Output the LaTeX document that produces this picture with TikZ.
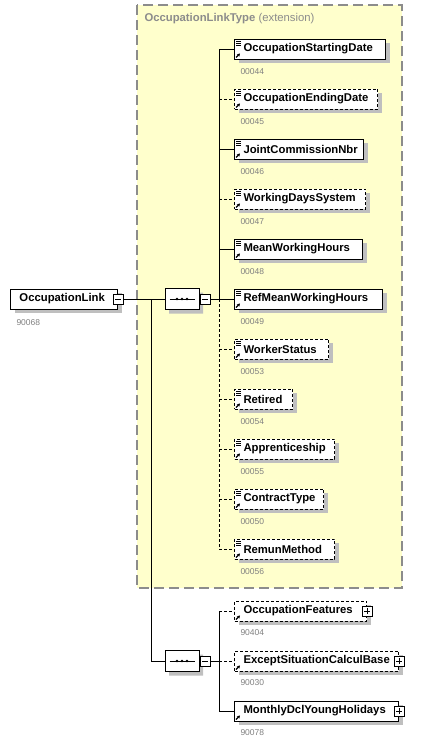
\documentclass[tikz,border=0pt]{standalone}
\usepackage{fontspec}
\setmainfont{Liberation Sans}
\usetikzlibrary{shadows,shapes.misc,arrows.meta}

\definecolor{typefill}{RGB}{255,255,204}
\definecolor{typeline}{RGB}{140,140,140}
\definecolor{idgray}{RGB}{128,128,128}

\newcommand{\elemfont}{\fontsize{11.3}{13}\selectfont\bfseries}
\newcommand{\idfont}{\fontsize{8.5}{10}\selectfont}
\newcommand{\elembox}[2]{\makebox[#1pt][l]{\hspace{9pt}#2}}
\newcommand{\refarrow}[1]{\draw[-{Stealth[length=3pt,width=3.5pt]}, line width=1.1pt] ([xshift=2pt,yshift=2pt]#1.south west) -- ++(4pt,4pt);}
\newcommand{\texticon}[1]{\foreach \k in {2.5,4.5,6.5} \draw[line width=0.8pt] ([xshift=2pt,yshift=-\k pt]#1.north west) -- ++(5pt,0pt);}

\tikzset{
  shadowed/.style={drop shadow={shadow xshift=4pt, shadow yshift=-4pt, fill=black!25, opacity=1}},
  elem/.style={draw, fill=white, shadowed, anchor=west, minimum height=20pt, inner sep=0pt, font=\elemfont},
  optional/.style={dash pattern=on 3pt off 2pt},
  idtext/.style={anchor=west, inner sep=0pt, font=\idfont, text=idgray},
  toggle/.style={draw, fill=white, minimum size=10pt, inner sep=0pt},
  seqbox/.style={chamfered rectangle, chamfered rectangle xsep=4pt, chamfered rectangle ysep=4pt, draw, fill=white, shadowed, minimum width=34pt, minimum height=21pt, inner sep=0pt},
}

\begin{document}
\begin{tikzpicture}[x=1pt, y=-1pt, line width=1pt]
  \useasboundingbox (0,0) rectangle (437,744);

  % extension box
  \draw[typeline, fill=typefill, line width=1.3pt, dash pattern=on 10pt off 5pt] (137,5) rectangle (402,588);
  \node[anchor=west, inner sep=0pt, text=typeline, font=\elemfont] (title) at (144,19) {OccupationLinkType \mdseries(extension)};

  % root element
  \node[elem] (root) at (10,299) {\elembox{107}{OccupationLink}};
  \node[idtext] (root-id) at (16,323) {90068};
  \node[toggle] (root-t) at (root.east) {};
  \draw ([xshift=-3pt]root-t.center) -- ([xshift=3pt]root-t.center);

  % sequences
  \foreach \s/\y in {1/299, 2/661} {
    \node[seqbox] (seq-\s) at (182,\y) {};
    \draw ([xshift=5pt]seq-\s.west) -- ([xshift=-5pt]seq-\s.east);
    \foreach \d in {-5,0,5}
      \fill ([xshift=\d pt]seq-\s.center) circle (1.4pt);
    \node[toggle, anchor=west] (seq-\s-t) at (seq-\s.east) {};
    \draw ([xshift=-3pt]seq-\s-t.center) -- ([xshift=3pt]seq-\s-t.center);
  }

  % extension content
  \foreach \n/\w/\id/\o [count=\i] in {
      OccupationStartingDate/151/00044/,
      OccupationEndingDate/143/00045/optional,
      JointCommissionNbr/129/00046/,
      WorkingDaysSystem/131/00047/optional,
      MeanWorkingHours/128/00048/,
      RefMeanWorkingHours/148/00049/,
      WorkerStatus/94/00053/optional,
      Retired/58/00054/optional,
      Apprenticeship/100/00055/optional,
      ContractType/89/00050/optional,
      RemunMethod/100/00056/optional} {
    \node[elem, \o] (e-\i) at (234,{50*\i-1}) {\elembox{\w}{\n}};
    \node[idtext] (e-\i-id) at (240,{50*\i+22}) {\id};
    \texticon{e-\i}
    \refarrow{e-\i}
  }

  % own content
  \foreach \n/\w/\id/\o [count=\i] in {
      OccupationFeatures/132/90404/optional,
      ExceptSituationCalculBase/164/90030/optional,
      MonthlyDclYoungHolidays/164/90078/} {
    \node[elem, \o] (f-\i) at (234,{50*\i+561}) {\elembox{\w}{\n}};
    \node[idtext] (f-\i-id) at (240,{50*\i+583}) {\id};
    \node[toggle] (f-\i-t) at (f-\i.east) {};
    \draw ([xshift=-3pt]f-\i-t.center) -- ([xshift=3pt]f-\i-t.center)
          ([yshift=-3pt]f-\i-t.center) -- ([yshift=3pt]f-\i-t.center);
    \refarrow{f-\i}
  }

  % connectors
  \coordinate (trunk-0) at (151,299);
  \coordinate (trunk-1) at (219,299);
  \coordinate (trunk-2) at (219,661);
  \draw (root-t.east) -- (seq-1.west);
  \draw (trunk-0) |- (seq-2.west);
  \draw (seq-1-t.east) -- (trunk-1);
  \draw (seq-2-t.east) -- (trunk-2);
  \draw (trunk-1 |- e-1.west) -- (trunk-1);
  \draw[optional] (trunk-1) -- (trunk-1 |- e-11.west);
  \draw (trunk-2 |- f-1.west) -- (trunk-2 |- f-3.west);
  \foreach \i/\o in {1/,2/optional,3/,4/optional,5/,6/,7/optional,8/optional,9/optional,10/optional,11/optional}
    \draw[\o] (trunk-1 |- e-\i.west) -- (e-\i.west);
  \foreach \i/\o in {1/optional,2/optional,3/}
    \draw[\o] (trunk-2 |- f-\i.west) -- (f-\i.west);
\end{tikzpicture}
\end{document}
